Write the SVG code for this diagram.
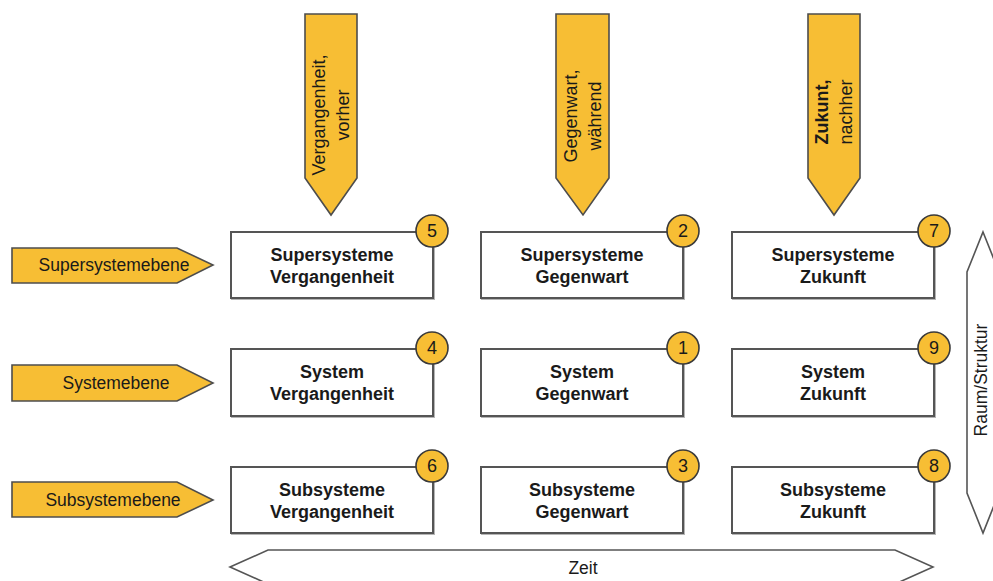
<svg xmlns="http://www.w3.org/2000/svg" width="993" height="581" viewBox="0 0 993 581">
  <style>
    .tag { fill: #F7BE34; stroke: #4d4d4d; stroke-width: 1.6; stroke-linejoin: miter; }
    .box { fill: #ffffff; stroke: #555555; stroke-width: 2; }
    .box-shade { fill: none; stroke: #b5b5b5; stroke-width: 2; }
    .badge { fill: #F7BE34; stroke: #3a3a3a; stroke-width: 1.6; }
    .axis { fill: #ffffff; stroke: #555555; stroke-width: 1.6; }
    .lbl { font-family: "Liberation Sans", Arial, sans-serif; font-size: 17.5px; fill: #1a1a1a; text-anchor: middle; }
    .vlbl { font-family: "Liberation Sans", Arial, sans-serif; font-size: 18px; fill: #1a1a1a; text-anchor: middle; }
    .btxt { font-family: "Liberation Sans", Arial, sans-serif; font-size: 18px; font-weight: bold; fill: #1a1a1a; text-anchor: middle; }
    .num { font-family: "Liberation Sans", Arial, sans-serif; font-size: 18px; fill: #1a1a1a; text-anchor: middle; }
  </style>

  <!-- time direction labels (downward pointers) -->
  <g id="col-vergangenheit">
    <polygon class="tag" points="305,14 357,14 357,178 331,215 305,178"/>
    <g transform="translate(331,115) rotate(-90)">
      <text class="vlbl" x="0" y="-6">Vergangenheit,</text>
      <text class="vlbl" x="0" y="18">vorher</text>
    </g>
  </g>
  <g id="col-gegenwart">
    <polygon class="tag" points="556,14 609,14 609,178 583,215 556,178"/>
    <g transform="translate(583,116) rotate(-90)">
      <text class="vlbl" x="0" y="-6">Gegenwart,</text>
      <text class="vlbl" x="0" y="18">während</text>
    </g>
  </g>
  <g id="col-zukunft">
    <polygon class="tag" points="808,14 860,14 860,178 834,215 808,178"/>
    <g transform="translate(834,112) rotate(-90)">
      <text class="vlbl" x="0" y="-6" font-weight="bold">Zukunt,</text>
      <text class="vlbl" x="0" y="18">nachher</text>
    </g>
  </g>

  <!-- level labels (rightward pointers) -->
  <g id="row-super">
    <polygon class="tag" points="12,248 177,248 213,265 177,283 12,283"/>
    <text class="lbl" x="114" y="271">Supersystemebene</text>
  </g>
  <g id="row-system">
    <polygon class="tag" points="12,365 177,365 213,383 177,401 12,401"/>
    <text class="lbl" x="116" y="389">Systemebene</text>
  </g>
  <g id="row-sub">
    <polygon class="tag" points="12,482 177,482 213,500 177,517 12,517"/>
    <text class="lbl" x="113" y="506">Subsystemebene</text>
  </g>

  <!-- matrix cells -->
  <g id="cell-5">
    <rect class="box-shade" x="232" y="233" width="202" height="66"/>
    <rect class="box" x="231" y="232" width="202" height="66"/>
    <text class="btxt" x="332" y="261">Supersysteme</text>
    <text class="btxt" x="332" y="283">Vergangenheit</text>
    <circle class="badge" cx="432" cy="231" r="16"/>
    <text class="num" x="432" y="237">5</text>
  </g>
  <g id="cell-2">
    <rect class="box-shade" x="482" y="233" width="202" height="66"/>
    <rect class="box" x="481" y="232" width="202" height="66"/>
    <text class="btxt" x="582" y="261">Supersysteme</text>
    <text class="btxt" x="582" y="283">Gegenwart</text>
    <circle class="badge" cx="683" cy="231" r="16"/>
    <text class="num" x="683" y="237">2</text>
  </g>
  <g id="cell-7">
    <rect class="box-shade" x="733" y="233" width="202" height="66"/>
    <rect class="box" x="732" y="232" width="202" height="66"/>
    <text class="btxt" x="833" y="261">Supersysteme</text>
    <text class="btxt" x="833" y="283">Zukunft</text>
    <circle class="badge" cx="934" cy="231" r="16"/>
    <text class="num" x="934" y="237">7</text>
  </g>

  <g id="cell-4">
    <rect class="box-shade" x="232" y="350" width="202" height="67"/>
    <rect class="box" x="231" y="349" width="202" height="67"/>
    <text class="btxt" x="332" y="378">System</text>
    <text class="btxt" x="332" y="400">Vergangenheit</text>
    <circle class="badge" cx="432" cy="348" r="16"/>
    <text class="num" x="432" y="354">4</text>
  </g>
  <g id="cell-1">
    <rect class="box-shade" x="482" y="350" width="202" height="67"/>
    <rect class="box" x="481" y="349" width="202" height="67"/>
    <text class="btxt" x="582" y="378">System</text>
    <text class="btxt" x="582" y="400">Gegenwart</text>
    <circle class="badge" cx="683" cy="348" r="16"/>
    <text class="num" x="683" y="354">1</text>
  </g>
  <g id="cell-9">
    <rect class="box-shade" x="733" y="350" width="202" height="67"/>
    <rect class="box" x="732" y="349" width="202" height="67"/>
    <text class="btxt" x="833" y="378">System</text>
    <text class="btxt" x="833" y="400">Zukunft</text>
    <circle class="badge" cx="934" cy="348" r="16"/>
    <text class="num" x="934" y="354">9</text>
  </g>

  <g id="cell-6">
    <rect class="box-shade" x="232" y="468" width="202" height="66"/>
    <rect class="box" x="231" y="467" width="202" height="66"/>
    <text class="btxt" x="332" y="496">Subsysteme</text>
    <text class="btxt" x="332" y="518">Vergangenheit</text>
    <circle class="badge" cx="432" cy="466" r="16"/>
    <text class="num" x="432" y="472">6</text>
  </g>
  <g id="cell-3">
    <rect class="box-shade" x="482" y="468" width="202" height="66"/>
    <rect class="box" x="481" y="467" width="202" height="66"/>
    <text class="btxt" x="582" y="496">Subsysteme</text>
    <text class="btxt" x="582" y="518">Gegenwart</text>
    <circle class="badge" cx="683" cy="466" r="16"/>
    <text class="num" x="683" y="472">3</text>
  </g>
  <g id="cell-8">
    <rect class="box-shade" x="733" y="468" width="202" height="66"/>
    <rect class="box" x="732" y="467" width="202" height="66"/>
    <text class="btxt" x="833" y="496">Subsysteme</text>
    <text class="btxt" x="833" y="518">Zukunft</text>
    <circle class="badge" cx="934" cy="466" r="16"/>
    <text class="num" x="934" y="472">8</text>
  </g>

  <!-- axes -->
  <g id="axes">
    <g id="axis-zeit">
      <polygon class="axis" points="230,567 268,550 895,550 933,567 895,584 268,584"/>
      <text class="lbl" x="583" y="574">Zeit</text>
    </g>
    <g id="axis-raum">
      <polygon class="axis" points="983,232 999,272 999,493 983,533 967,493 967,272"/>
      <text class="lbl" transform="translate(987,380) rotate(-90)" x="0" y="0">Raum/Struktur</text>
    </g>
  </g>
</svg>
